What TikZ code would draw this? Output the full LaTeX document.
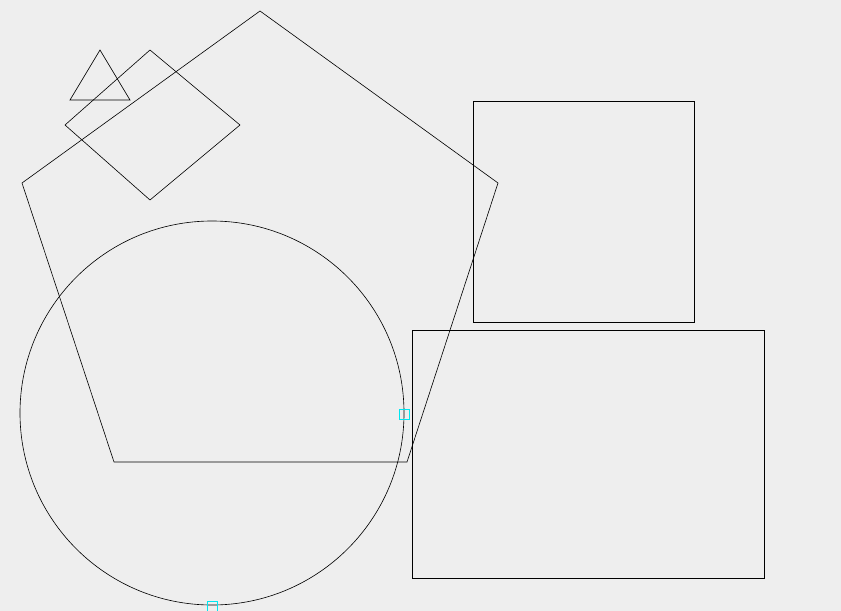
\documentclass[tikz,border=0pt]{standalone}
\usepackage{tikz}
\definecolor{canvasgray}{RGB}{238,238,238}
\definecolor{handlecyan}{RGB}{0,230,240}
\usetikzlibrary{calc}

\begin{document}
\begin{tikzpicture}[
  x=0.02cm, y=-0.02cm,
  outline/.style={draw=black,line width=0.35pt,line join=miter},
  handle/.style={draw=handlecyan,line width=0.35pt},
]
  % canvas
  \fill[canvasgray] (0,0) rectangle (841,611);
  \useasboundingbox (0,0) rectangle (841,611);

  % Pentagon
  \draw[outline] (260,11) -- (498,183) -- (407,462) -- (114,462) -- (22,183) -- cycle;

  % Triangle and diamond
  \draw[outline] (100,50) -- (130,100) -- (70,100) -- cycle;
  \draw[outline] (150,50) -- (240,125) -- (150,200) -- (65,125) -- cycle;

  % Circle
  \draw[outline] (212,413) circle[radius=192];

  % Rectangles
  \draw[outline] (473,101) rectangle (694,322);
  \draw[outline] (412,330) rectangle (764,578);

  % Handles on the circle
  \draw[handle] (399,409) rectangle (409,419);
  \draw[handle] (207,601) rectangle (217,611);
\end{tikzpicture}
\end{document}
